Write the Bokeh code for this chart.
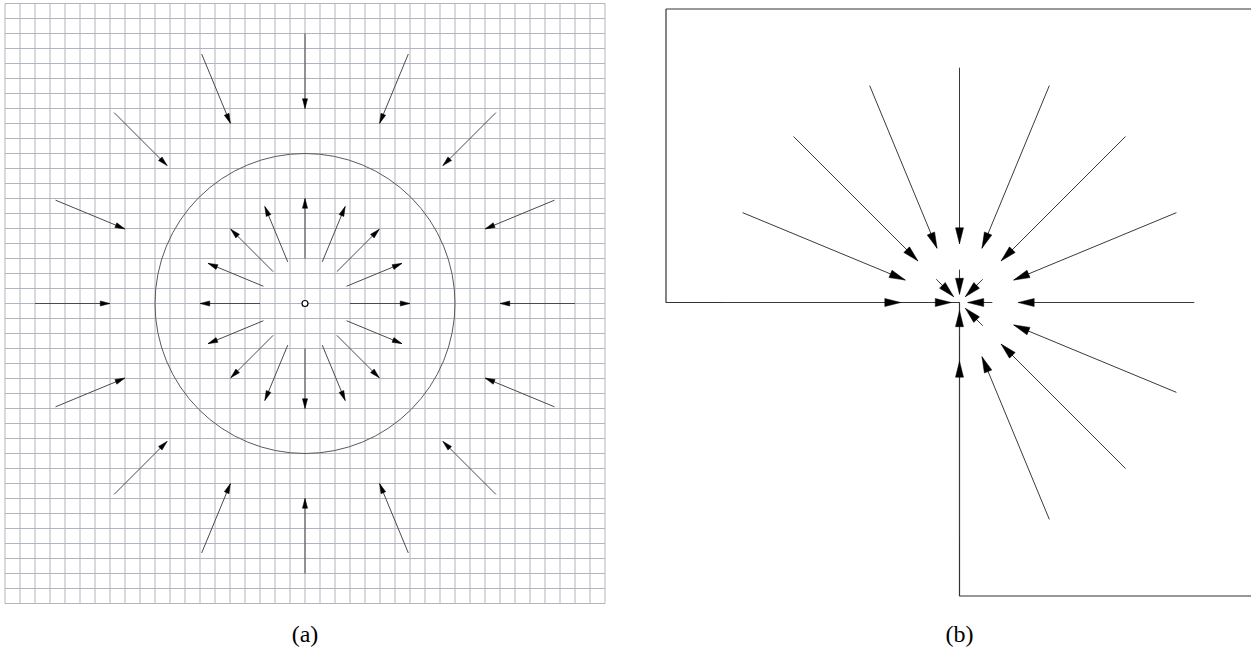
import numpy as np
from bokeh.plotting import figure
from bokeh.layouts import row
from bokeh.models import Range1d
from bokeh.embed import file_html
from bokeh.resources import INLINE
from bokeh.core.properties import value

# ---------------- data: panel (a) ----------------
grid_lo, grid_hi = -20, 20            # grid cells
circle_r = 10                          # radius of the circle
a_angles = [0, 22.5, 45, 67.5, 90, 112.5, 135, 157.5,
            180, 202.5, 225, 247.5, 270, 292.5, 315, 337.5]
a_outer_start, a_outer_tip = 18, 13    # outer ring: pointing inward
a_inner_start, a_inner_tip = 3, 7      # inner ring: pointing outward
a_label = "(a)"

# ---------------- data: panel (b) ----------------
b_boundary_x = [-1, 1, 1, 0, 0, -1, -1]
b_boundary_y = [1, 1, -1, -1, 0, 0, 1]
b_outer_angles = [0, 22.5, 45, 67.5, 90, 112.5, 135, 157.5, 180,
                  270, 292.5, 315, 337.5]
b_outer_start, b_outer_tip = 0.8, 0.2
b_inner_angles = [0, 45, 90, 135, 180, 270, 315]
b_inner_start, b_inner_tip = 0.112, 0.028
b_label = "(b)"


def arrows(angles, r_start, r_tip, head_len, head_half):
    th = np.radians(np.asarray(angles, dtype=float))
    c, s = np.cos(th), np.sin(th)
    x0, y0 = r_start * c, r_start * s
    x1, y1 = r_tip * c, r_tip * s
    d = np.sign(r_tip - r_start)
    ux, uy = d * c, d * s
    nx, ny = -uy, ux
    bx, by = x1 - head_len * ux, y1 - head_len * uy
    hx = [[a, b + head_half * n1, b - head_half * n1] for a, b, n1 in zip(x1, bx, nx)]
    hy = [[a, b + head_half * n2, b - head_half * n2] for a, b, n2 in zip(y1, by, ny)]
    return x0, y0, x1, y1, hx, hy


def base_fig(w, h, xr, yr):
    p = figure(width=w, height=h, x_range=xr, y_range=yr,
               x_axis_type=None, y_axis_type=None,
               toolbar_location=None, output_backend="svg",
               min_border=0, min_border_left=0, min_border_right=0,
               min_border_top=0, min_border_bottom=0)
    p.outline_line_color = None
    p.background_fill_color = "white"
    p.border_fill_color = "white"
    return p


H = 651

# ---------------- panel (a) ----------------
WA = 648
ua = 15.0                      # px per grid cell
cxa, cya = 304.5, 303.0        # centre inside figure, px
pa = base_fig(WA, H,
              Range1d(-cxa / ua, (WA - cxa) / ua),
              Range1d(cya / ua - H / ua, cya / ua))

g = np.arange(grid_lo, grid_hi + 1)
pa.segment(x0=g, y0=grid_lo, x1=g, y1=grid_hi, line_color="#b1b5bd", line_width=1)
pa.segment(x0=grid_lo, y0=g, x1=grid_hi, y1=g, line_color="#b1b5bd", line_width=1)

pa.circle(x=[0], y=[0], radius=circle_r, fill_color=None,
          line_color="#5a5a5a", line_width=1)

for rs, rt in [(a_outer_start, a_outer_tip), (a_inner_start, a_inner_tip)]:
    x0, y0, x1, y1, hx, hy = arrows(a_angles, rs, rt, 0.65, 0.17)
    pa.segment(x0=x0, y0=y0, x1=x1, y1=y1, line_color="#4a4a4a", line_width=1)
    pa.patches(xs=hx, ys=hy, fill_color="black", line_color="black", line_width=0.5)

pa.scatter(x=[0], y=[0], marker="circle", size=6, fill_color="white",
           line_color="black", line_width=1.2)

pa.text(x=[0], y=[cya / ua - 633 / ua], text=[a_label], text_align="center",
        text_baseline="middle", text_font=value("Liberation Serif"),
        text_font_size="24px", text_color="black")

# ---------------- panel (b) ----------------
WB = 603
ub = 293.5
cxb, cyb = 311.0, 302.0
pb = base_fig(WB, H,
              Range1d(-cxb / ub, (WB - cxb) / ub),
              Range1d(cyb / ub - H / ub, cyb / ub))

pb.line(x=b_boundary_x, y=b_boundary_y, line_color="#333333", line_width=1.2)

for rs, rt in [(b_outer_start, b_outer_tip), (b_inner_start, b_inner_tip)]:
    angs = b_outer_angles if rs == b_outer_start else b_inner_angles
    x0, y0, x1, y1, hx, hy = arrows(angs, rs, rt, 16 / ub, 4 / ub)
    pb.segment(x0=x0, y0=y0, x1=x1, y1=y1, line_color="#3a3a3a", line_width=1)
    pb.patches(xs=hx, ys=hy, fill_color="black", line_color="black", line_width=0.5)

pb.text(x=[0], y=[cyb / ub - 633 / ub], text=[b_label], text_align="center",
        text_baseline="middle", text_font=value("Liberation Serif"),
        text_font_size="24px", text_color="black")

p = row(pa, pb)
open("out.html", "w").write(file_html(p, INLINE))
